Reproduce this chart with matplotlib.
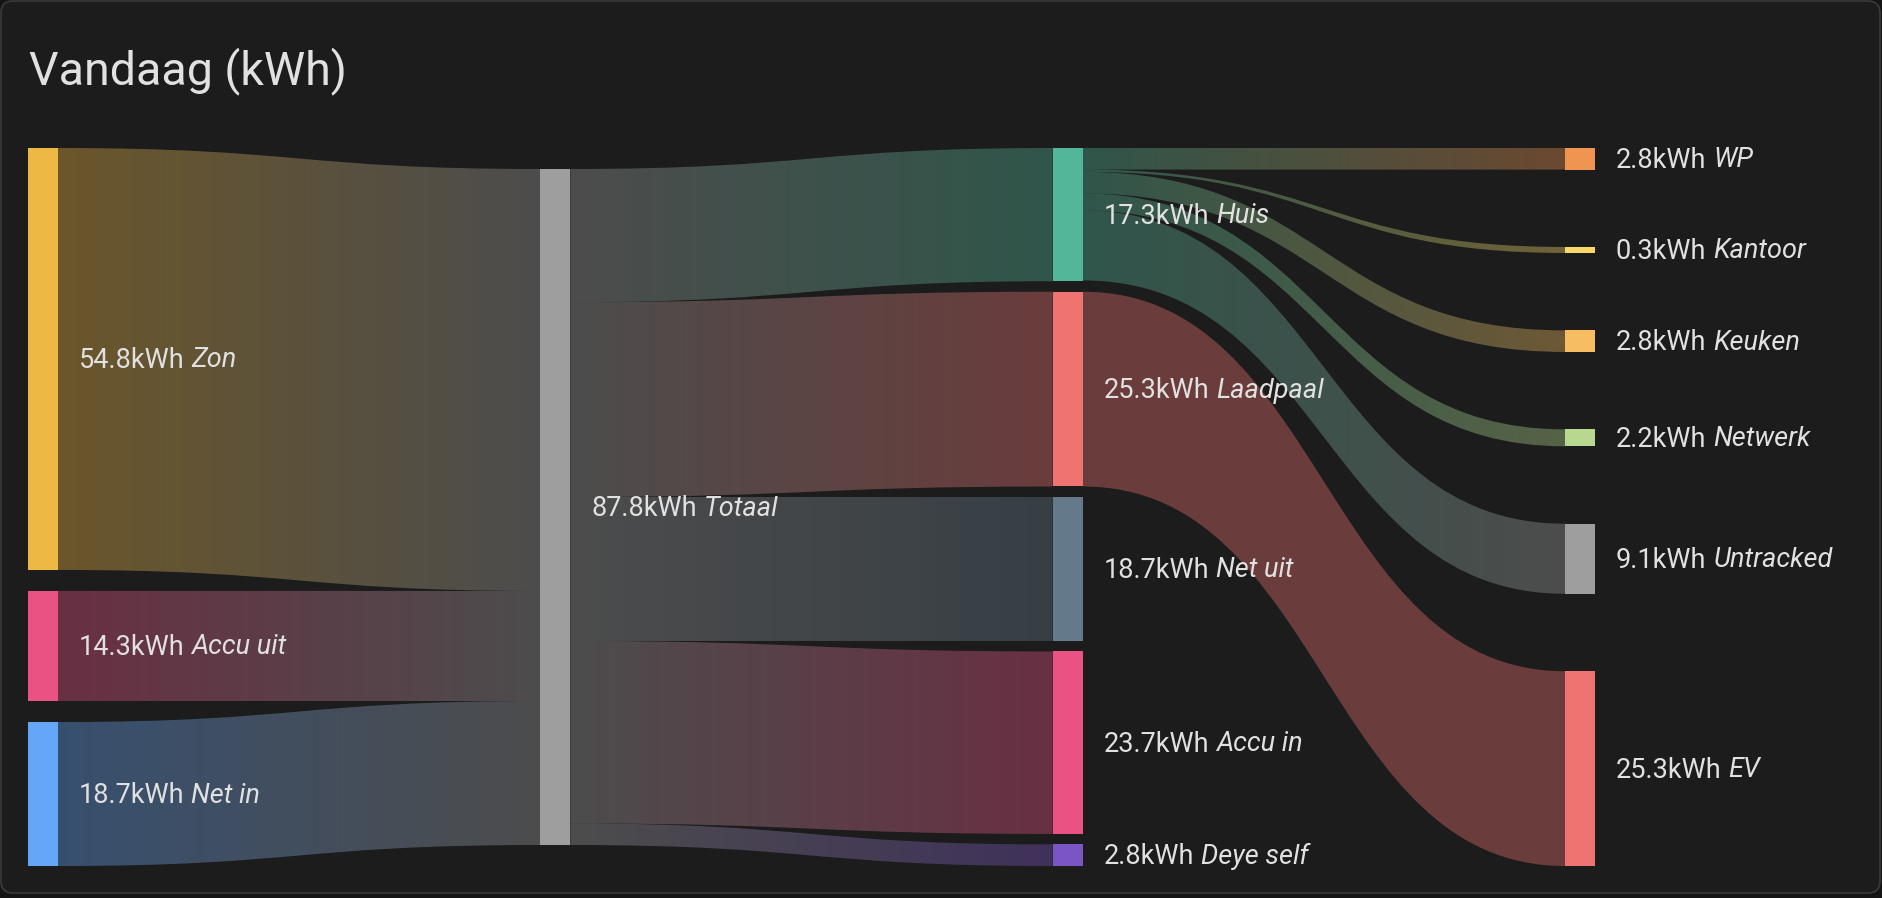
import matplotlib
matplotlib.use('Agg')
import matplotlib.pyplot as plt
import numpy as np
from matplotlib.path import Path
from matplotlib.patches import PathPatch, Rectangle, FancyBboxPatch
from matplotlib.colors import to_rgba

# Gegevens (kWh)
bronnen = ['Zon', 'Accu uit', 'Net in']
bron_waarden = [54.8, 14.3, 18.7]
totaal_naam = 'Totaal'
totaal_waarde = 87.8
verbruikers = ['Huis', 'Laadpaal', 'Net uit', 'Accu in', 'Deye self']
verbruiker_waarden = [17.3, 25.3, 18.7, 23.7, 2.8]
apparaten = ['WP', 'Kantoor', 'Keuken', 'Netwerk', 'Untracked', 'EV']
apparaat_waarden = [2.8, 0.3, 2.8, 2.2, 9.1, 25.3]
apparaat_ouder = ['Huis', 'Huis', 'Huis', 'Huis', 'Huis', 'Laadpaal']

kleuren = {
    'Zon': '#edb843', 'Accu uit': '#ea5284', 'Net in': '#66a6f9',
    'Totaal': '#9e9e9e',
    'Huis': '#52b698', 'Laadpaal': '#ee7371', 'Net uit': '#647a8a',
    'Accu in': '#ea5284', 'Deye self': '#7b55c4',
    'WP': '#f09452', 'Kantoor': '#fad867', 'Keuken': '#f6bd63',
    'Netwerk': '#b7d88e', 'Untracked': '#9e9e9e', 'EV': '#ee7371',
}

# waarden en verbindingen opbouwen
waarde = dict(zip(bronnen, bron_waarden))
waarde[totaal_naam] = totaal_waarde
waarde.update(zip(verbruikers, verbruiker_waarden))
waarde.update(zip(apparaten, apparaat_waarden))

links = [(b, totaal_naam, v) for b, v in zip(bronnen, bron_waarden)]
links += [(totaal_naam, c, v) for c, v in zip(verbruikers, verbruiker_waarden)]
links += [(p, a, v) for p, a, v in zip(apparaat_ouder, apparaten, apparaat_waarden)]

kolommen = [bronnen, [totaal_naam], verbruikers, apparaten]

# layout in pixels
W, H = 1882, 898
top, bottom = 148, 866
hoogte = bottom - top
node_w = 30
x_links, x_rechts = 28, 1565
stap = (x_rechts - x_links) / (len(kolommen) - 1)
min_gap = 10.5
min_h = 6
alpha = 0.38
bg = '#1c1c1c'
tekst = '#e1e1e1'

schaal = min((hoogte - min_gap * (len(k) - 1)) / sum(waarde[n] for n in k) for k in kolommen)

pos = {}
for ci, kol in enumerate(kolommen):
    hs = [max(waarde[n] * schaal, min_h) for n in kol]
    x = x_links + ci * stap
    if len(kol) == 1:
        y = top + (hoogte - hs[0]) / 2
        gap = 0
    else:
        y = top
        gap = (hoogte - sum(hs)) / (len(kol) - 1)
    for n, h in zip(kol, hs):
        pos[n] = (x, y, h)
        y += h + gap

fig = plt.figure(figsize=(W / 100, H / 100), dpi=100, facecolor='#151515')
ax = fig.add_axes([0, 0, 1, 1])
ax.set_xlim(0, W)
ax.set_ylim(H, 0)
ax.axis('off')

kaart = FancyBboxPatch((1, 1), W - 3, H - 6, boxstyle='round,pad=0,rounding_size=12',
                       facecolor=bg, edgecolor='#3a3a3a', linewidth=1.2, zorder=0)
ax.add_patch(kaart)

# verbindingen
uit_off = {n: 0.0 for n in waarde}
in_off = {n: 0.0 for n in waarde}
in_tot = {}
for s_, t_, v in links:
    in_tot[t_] = in_tot.get(t_, 0) + v

for s_, t_, v in links:
    sx, sy, sh = pos[s_]
    tx, ty, th = pos[t_]
    w0 = v * schaal
    w1 = th * v / in_tot[t_]
    x0 = sx + node_w
    x1 = tx
    y0t = sy + uit_off[s_]
    y0b = y0t + w0
    y1t = ty + in_off[t_]
    y1b = y1t + w1
    uit_off[s_] += w0
    in_off[t_] += w1
    xm = (x0 + x1) / 2
    verts = [(x0, y0t), (xm, y0t), (xm, y1t), (x1, y1t),
             (x1, y1b), (xm, y1b), (xm, y0b), (x0, y0b), (x0, y0t)]
    codes = [Path.MOVETO, Path.CURVE4, Path.CURVE4, Path.CURVE4,
             Path.LINETO, Path.CURVE4, Path.CURVE4, Path.CURVE4, Path.CLOSEPOLY]
    patch = PathPatch(Path(verts, codes), facecolor='none', edgecolor='none')
    ax.add_patch(patch)
    c0 = np.array(to_rgba(kleuren[s_], alpha))
    c1 = np.array(to_rgba(kleuren[t_], alpha))
    t = np.linspace(0, 1, 256)[:, None]
    grad = (c0 * (1 - t) + c1 * t)[None, :, :]
    ymin = min(y0t, y1t) - 1
    ymax = max(y0b, y1b) + 1
    im = ax.imshow(grad, extent=(x0, x1, ymax, ymin), aspect='auto',
                   interpolation='bilinear', zorder=1)
    im.set_clip_path(patch)

# knopen en labels
for n, (x, y, h) in pos.items():
    ax.add_patch(Rectangle((x, y), node_w, h, facecolor=kleuren[n],
                           edgecolor='none', zorder=2))
    t1 = ax.text(x + node_w + 21, y + h / 2 + 1.5, f'{waarde[n]:.1f}kWh', color=tekst,
                 fontsize=19.5, family=['Roboto', 'DejaVu Sans'], va='center', ha='left', zorder=3)
    ax.annotate(n, xy=(1, 0.5), xycoords=t1, xytext=(5, 0), textcoords='offset points',
                color=tekst, fontsize=19.5, family=['Roboto', 'DejaVu Sans'], style='italic',
                va='center', ha='left', zorder=3)

ax.text(29, 84, 'Vandaag (kWh)', color=tekst, fontsize=33.5,
        family=['Roboto', 'DejaVu Sans'], va='baseline', ha='left')

ax.set_xlim(0, W)
ax.set_ylim(H, 0)
fig.savefig('out.png', dpi=100, facecolor=fig.get_facecolor())
